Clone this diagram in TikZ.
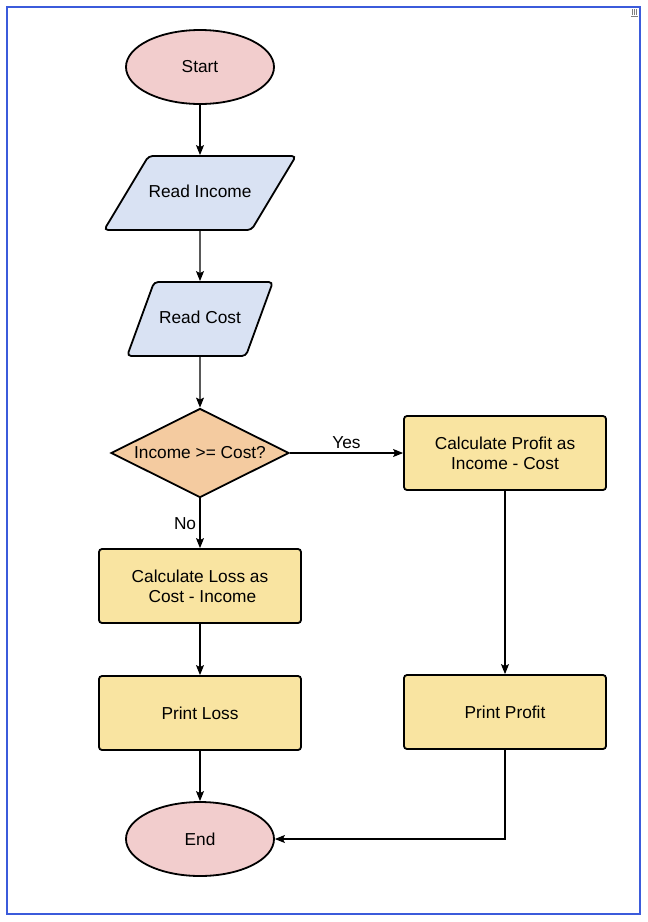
\documentclass[tikz,border=0pt]{standalone}
\usepackage{fontspec}
\setmainfont{Liberation Sans}
\usetikzlibrary{shapes.geometric,arrows.meta}
\definecolor{termred}{HTML}{F2CDCD}
\definecolor{ioblue}{HTML}{D9E2F3}
\definecolor{decpeach}{HTML}{F4CBA0}
\definecolor{procyellow}{HTML}{F9E4A1}
\definecolor{frameblue}{HTML}{3B5BDB}
\begin{document}
\begin{tikzpicture}[x=1pt,y=-1pt,>={Stealth[length=10pt,width=8pt,inset=2pt]},
    every node/.style={font=\fontsize{17.3}{20}\selectfont},
    term node/.style={ellipse,draw,line width=1.8pt,fill=termred,minimum width=148pt,minimum height=74pt,inner sep=0pt},
    io node/.style={trapezium,trapezium stretches=true,draw,line width=1.8pt,fill=ioblue,rounded corners=4pt,text height=12pt,text depth=3.5pt,inner xsep=0pt,inner ysep=29.25pt},
    dec node/.style={diamond,draw,line width=1.8pt,fill=decpeach,shape aspect=2,minimum width=178pt,minimum height=89pt,inner sep=0pt},
    proc node/.style={rectangle,draw,line width=1.8pt,fill=procyellow,rounded corners=3pt,minimum width=202pt,minimum height=74pt,align=center},
    flow/.style={->,line width=1.1pt}]
  \useasboundingbox (0,0) rectangle (648,922);
  \draw[line width=2pt,frameblue] (7,7) rectangle (640,914);
  % little grip mark in the corner
  \draw[gray,line width=0.6pt] (632,9) -- (632,15) (634,9) -- (634,15) (636,9) -- (636,15) (631,16.5) -- (638,16.5);

  \node[term node] at (200,67) (start) {Start};
  \node[io node,trapezium left angle=59,trapezium right angle=121,minimum width=191pt] at (200,193) (rincome) {Read Income};
  \node[io node,trapezium left angle=72,trapezium right angle=108,minimum width=146pt] at (200,319) (rcost) {Read Cost};
  \node[dec node] at (200,453) (dec) {Income >= Cost?};
  \node[proc node] at (505,453) (cprofit) {Calculate Profit as\\Income - Cost};
  \node[proc node] at (200,586) (closs) {Calculate Loss as\\\ Cost - Income};
  \node[proc node] at (200,713) (ploss) {Print Loss};
  \node[proc node] at (505,712) (pprofit) {Print Profit};
  \node[term node] at (200,839) (end) {End};

  \path[flow]
    (start) edge (rincome)
    (rincome) edge (rcost)
    (rcost) edge (dec)
    (dec) edge node[above] {Yes} (cprofit)
    (dec) edge node[left] {No} (closs)
    (closs) edge (ploss)
    (ploss) edge (end)
    (cprofit) edge (pprofit)
    ;
  \draw[flow] (pprofit) |- (end);
\end{tikzpicture}
\end{document}
